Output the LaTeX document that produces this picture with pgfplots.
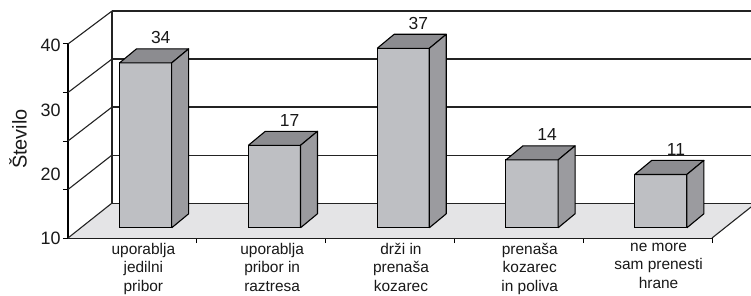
\documentclass[border=0pt]{standalone}
\usepackage{pgfplots}
\pgfplotsset{compat=1.18}
\usepackage{pgfplotstable}
\usepackage{fontspec}
\setmainfont{Liberation Sans}

\definecolor{barfront}{RGB}{190,191,195}
\definecolor{bartop}{RGB}{140,140,144}
\definecolor{barside}{RGB}{155,155,159}
\definecolor{floorgray}{RGB}{228,228,230}
\definecolor{linecol}{RGB}{35,35,35}
\definecolor{textcol}{RGB}{25,25,25}

\pgfplotstableread{
x v
0 34
1 17
2 37
3 14
4 11
}\datatable

\tikzset{
  barface/.style={draw=black, line width=1.1bp, line join=round},
  grid3d/.style={draw=linecol, line width=1.1bp},
  vallabel/.style={font=\fontsize{17.5}{20}\selectfont, text=textcol, anchor=base, inner sep=0pt, yshift=5bp},
}

\newcommand{\tdbar}[2]{%
  \pgfmathsetmacro\xl{#1+0.40}%
  \pgfmathsetmacro\xr{#1+0.805}%
  \pgfmathsetmacro\xbl{#1+0.532}%
  \pgfmathsetmacro\xbr{#1+0.937}%
  \pgfmathsetmacro\xm{#1+0.72}%
  \pgfmathsetmacro\yt{#2+2.1}%
  \pgfmathsetmacro\ytb{#2+5.0}%
  \edef\tdbarcmd{%
    \noexpand\addplot[barface, fill=barfront] coordinates {(\xl,2.1) (\xr,2.1) (\xr,\yt) (\xl,\yt) (\xl,2.1)};
    \noexpand\addplot[barface, fill=bartop] coordinates {(\xl,\yt) (\xr,\yt) (\xbr,\ytb) (\xbl,\ytb) (\xl,\yt)};
    \noexpand\addplot[barface, fill=barside] coordinates {(\xr,2.1) (\xbr,5.0) (\xbr,\ytb) (\xr,\yt) (\xr,2.1)};
    \noexpand\node[vallabel] at (axis cs:\xm,\ytb) {#2};
  }%
  \tdbarcmd
}

\begin{document}
\begin{tikzpicture}
\useasboundingbox[fill=white] (-68bp,-58bp) rectangle (683bp,238bp);
\clip (-68bp,-58bp) rectangle (683bp,238bp);
\begin{axis}[
  x=128.8bp, y=4.85bp,
  xmin=0, xmax=5, ymin=0, ymax=40,
  clip=false,
  axis x line*=bottom, axis y line*=left,
  axis line style={line width=1.1bp, draw=black, -},
  tick align=outside,
  major tick length=0pt,
  tick style={line width=1bp, draw=black},
  xtick={0.585,1.585,2.585,3.585,4.585},
  xticklabels={{uporablja\\jedilni\\pribor},{uporablja\\pribor in\\raztresa},{drži in\\prenaša\\kozarec},{prenaša\\kozarec\\in poliva},{ne more\\sam prenesti\\hrane}},
  xticklabel style={align=center, font=\fontsize{15.5}{18.5}\selectfont, text=textcol, yshift=-1.5bp},
  extra x ticks={1,2,3,4,5},
  extra x tick labels={,,,,},
  extra x tick style={major tick length=5bp},
  ytick={0,13.05,26.3,39.7},
  yticklabels={10,20,30,40},
  yticklabel style={font=\fontsize{18}{20}\selectfont, text=textcol, xshift=-4bp},
  extra y ticks={0,10,20,30,40},
  extra y tick labels={,,,,},
  extra y tick style={major tick length=5bp},
  ylabel={Število},
  ylabel style={at={(axis description cs:-0.0776,0.51)}, anchor=center, font=\fontsize{20}{22}\selectfont, text=textcol},
]
% floor
\addplot[fill=floorgray, draw=none] coordinates {(0,0) (5,0) (5.303,6.39) (5.303,7.2) (0.3416,7.2) (0,0)};
\addplot[grid3d] coordinates {(5,0) (5.303,6.39)};
% back wall
\addplot[grid3d] coordinates {(0.3416,7.2) (0.3416,46.8)};
\addplot[grid3d] coordinates {(0.3416,7.2) (5.303,7.2)};
\addplot[grid3d] coordinates {(0.3416,17.1) (5.303,17.1)};
\addplot[grid3d] coordinates {(0.3416,27.0) (5.303,27.0)};
\addplot[grid3d] coordinates {(0.3416,36.9) (5.303,36.9)};
\addplot[grid3d] coordinates {(0.3416,46.8) (5.303,46.8)};
% side wall
\addplot[grid3d] coordinates {(0,0) (0.3416,7.2)};
\addplot[grid3d] coordinates {(0,10) (0.3416,17.1)};
\addplot[grid3d] coordinates {(0,20) (0.3416,27.0)};
\addplot[grid3d] coordinates {(0,30) (0.3416,36.9)};
\addplot[grid3d] coordinates {(0,40) (0.3416,46.8)};
% bars
\pgfplotsinvokeforeach{0,...,4}{%
  \pgfplotstablegetelem{#1}{v}\of\datatable
  \edef\val{\pgfplotsretval}%
  \tdbar{#1}{\val}%
}
\end{axis}
\end{tikzpicture}
\end{document}
